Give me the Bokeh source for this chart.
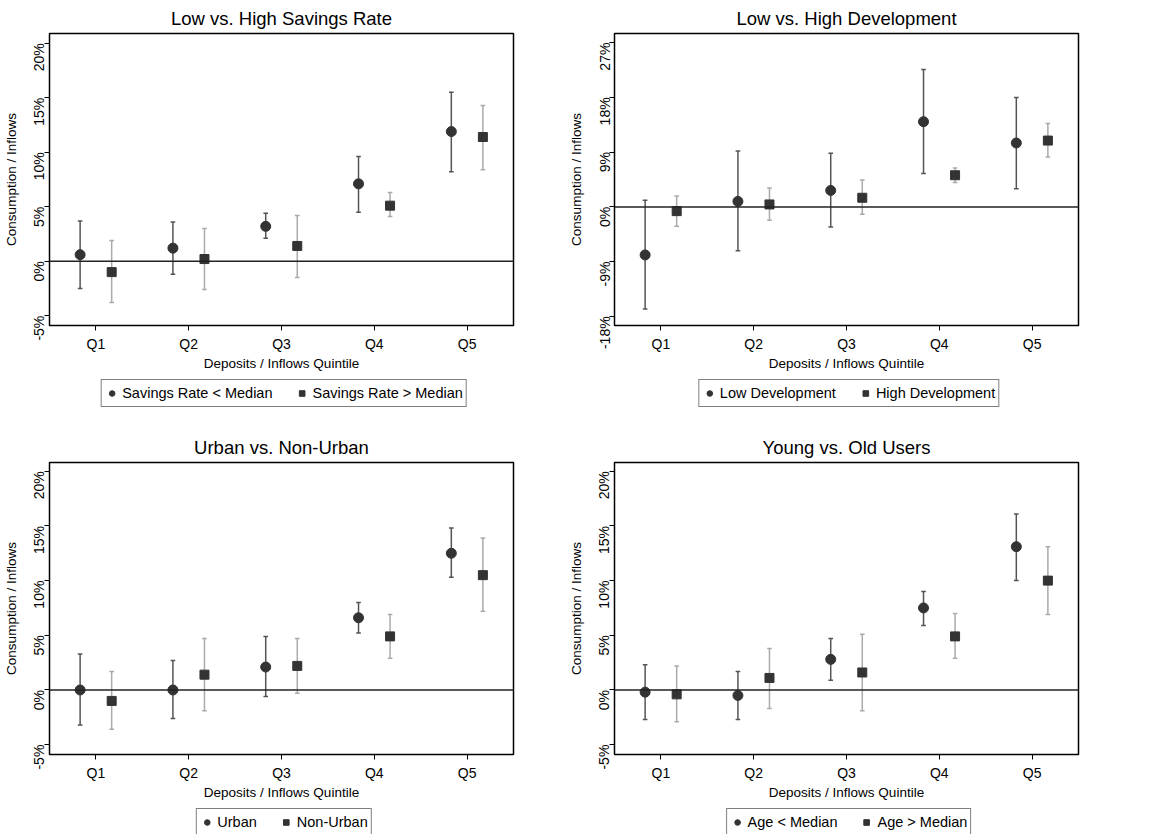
import math
from bokeh.plotting import figure
from bokeh.layouts import column, row
from bokeh.models import FixedTicker, Span, Legend, LegendItem, CustomJSTickFormatter, Range1d
from bokeh.embed import file_html
from bokeh.resources import INLINE

quintiles = ["Q1", "Q2", "Q3", "Q4", "Q5"]

# Panel 1: savings rate
sav_low = [0.6, 1.2, 3.2, 7.1, 11.9]
sav_low_lo = [-2.5, -1.2, 2.1, 4.5, 8.2]
sav_low_hi = [3.7, 3.6, 4.4, 9.6, 15.5]
sav_high = [-1.0, 0.2, 1.4, 5.1, 11.4]
sav_high_lo = [-3.8, -2.6, -1.5, 4.1, 8.4]
sav_high_hi = [1.9, 3.0, 4.2, 6.3, 14.3]

# Panel 2: development
dev_low = [-7.9, 0.9, 2.7, 14.0, 10.5]
dev_low_lo = [-16.8, -7.2, -3.3, 5.5, 3.0]
dev_low_hi = [1.1, 9.2, 8.8, 22.6, 18.0]
dev_high = [-0.7, 0.4, 1.5, 5.2, 10.9]
dev_high_lo = [-3.2, -2.2, -1.2, 4.0, 8.2]
dev_high_hi = [1.8, 3.1, 4.4, 6.4, 13.7]

# Panel 3: urban
urb = [0.0, 0.0, 2.1, 6.6, 12.5]
urb_lo = [-3.2, -2.6, -0.6, 5.2, 10.3]
urb_hi = [3.3, 2.7, 4.9, 8.0, 14.8]
nonurb = [-1.0, 1.4, 2.2, 4.9, 10.5]
nonurb_lo = [-3.6, -1.9, -0.3, 2.9, 7.2]
nonurb_hi = [1.7, 4.7, 4.7, 6.9, 13.9]

# Panel 4: age
young = [-0.2, -0.5, 2.8, 7.5, 13.1]
young_lo = [-2.7, -2.7, 0.9, 5.9, 10.0]
young_hi = [2.3, 1.7, 4.7, 9.0, 16.1]
old = [-0.4, 1.1, 1.6, 4.9, 10.0]
old_lo = [-2.9, -1.7, -1.9, 2.9, 6.9]
old_hi = [2.2, 3.8, 5.1, 7.0, 13.1]

FONT = "Liberation Sans"
OFF = 0.17
CAP = 0.025
MARKERS = [("circle", 10), ("square", 9)]


def panel(title, ticks, yr, s1, s2, labels, top, right, leg_h):
    p = figure(frame_width=464, frame_height=292, output_backend="svg",
               toolbar_location=None, x_range=Range1d(0.5, 5.5), y_range=Range1d(*yr),
               min_border_left=8, min_border_right=right, min_border_top=top,
               min_border_bottom=2)
    p.title.text = title
    p.title.align = "center"
    p.title.text_font = FONT
    p.title.text_font_style = "normal"
    p.title.text_font_size = "18.5px"
    p.title.text_color = "black"
    p.grid.visible = False
    p.outline_line_color = "black"
    p.outline_line_width = 1.5
    p.xaxis.ticker = FixedTicker(ticks=[1, 2, 3, 4, 5])
    p.xaxis.major_label_overrides = {i + 1: q for i, q in enumerate(quintiles)}
    p.yaxis.ticker = FixedTicker(ticks=ticks)
    p.yaxis.formatter = CustomJSTickFormatter(code="return tick + '%';")
    p.yaxis.major_label_orientation = math.pi / 2
    p.xaxis.axis_label = "Deposits / Inflows Quintile"
    p.yaxis.axis_label = "Consumption / Inflows"
    for ax in (p.xaxis, p.yaxis):
        ax.axis_label_text_font = FONT
        ax.axis_label_text_font_style = "normal"
        ax.axis_label_text_font_size = "13.5px"
        ax.axis_label_text_color = "black"
        ax.major_label_text_font = FONT
        ax.major_label_text_font_size = "14px"
        ax.major_label_text_color = "black"
        ax.minor_tick_line_color = None
        ax.major_tick_in = 0
        ax.major_tick_out = 5
        ax.axis_line_color = "black"
    p.xaxis.axis_label_standoff = 1
    p.yaxis.axis_label_standoff = 2
    p.add_layout(Span(location=0, dimension="width", line_color="#222222", line_width=1.5))

    for (vals, lo, hi), off, ecol, (mk, sz) in zip(
            (s1, s2), (-OFF, OFF), ("#555555", "#aaaaaa"), MARKERS):
        xs = [i + 1 + off for i in range(5)]
        p.segment(xs, lo, xs, hi, line_color=ecol, line_width=1.5)
        p.segment([x - CAP for x in xs], lo, [x + CAP for x in xs], lo, line_color=ecol, line_width=1.5)
        p.segment([x - CAP for x in xs], hi, [x + CAP for x in xs], hi, line_color=ecol, line_width=1.5)
        p.scatter(xs, vals, marker=mk, size=sz, fill_color="#333333", line_color="#333333")

    # legend lives in its own small figure under the plot; its glyphs sit off-range
    lf = figure(width=464 + 54 + right, height=leg_h, output_backend="svg",
                toolbar_location=None, x_range=Range1d(0, 1), y_range=Range1d(0, 1),
                min_border=0, outline_line_color=None)
    lf.axis.visible = False
    lf.grid.visible = False
    items = []
    for (mk, sz), lab in zip(MARKERS, labels):
        r = lf.scatter([-5], [-5], marker=mk, size=sz, fill_color="#333333", line_color="#333333")
        items.append(LegendItem(label=lab, renderers=[r]))
    leg = Legend(items=items, orientation="horizontal", location="top_center",
                 border_line_color="black", border_line_width=1.2,
                 label_text_font=FONT, label_text_font_size="14.5px", label_text_color="black",
                 glyph_width=14, label_standoff=4, spacing=22, padding=3, margin=6)
    lf.add_layout(leg)
    return p, lf


y5 = [-5, 0, 5, 10, 15, 20]
p1, l1 = panel("Low vs. High Savings Rate", y5, (-5.9, 20.9),
               (sav_low, sav_low_lo, sav_low_hi), (sav_high, sav_high_lo, sav_high_hi),
               ["Savings Rate < Median", "Savings Rate > Median"], 2, 47, 56)
p2, l2 = panel("Low vs. High Development", [-18, -9, 0, 9, 18, 27], (-19.5, 28.5),
               (dev_low, dev_low_lo, dev_low_hi), (dev_high, dev_high_lo, dev_high_hi),
               ["Low Development", "High Development"], 2, 20, 56)
p3, l3 = panel("Urban vs. Non-Urban", y5, (-5.9, 20.8),
               (urb, urb_lo, urb_hi), (nonurb, nonurb_lo, nonurb_hi),
               ["Urban", "Non-Urban"], 22, 47, 36)
p4, l4 = panel("Young vs. Old Users", y5, (-5.9, 20.8),
               (young, young_lo, young_hi), (old, old_lo, old_hi),
               ["Age < Median", "Age > Median"], 22, 20, 36)

page = column(row(column(p1, l1), column(p2, l2)), row(column(p3, l3), column(p4, l4)))

open("out.html", "w").write(file_html(page, INLINE))
